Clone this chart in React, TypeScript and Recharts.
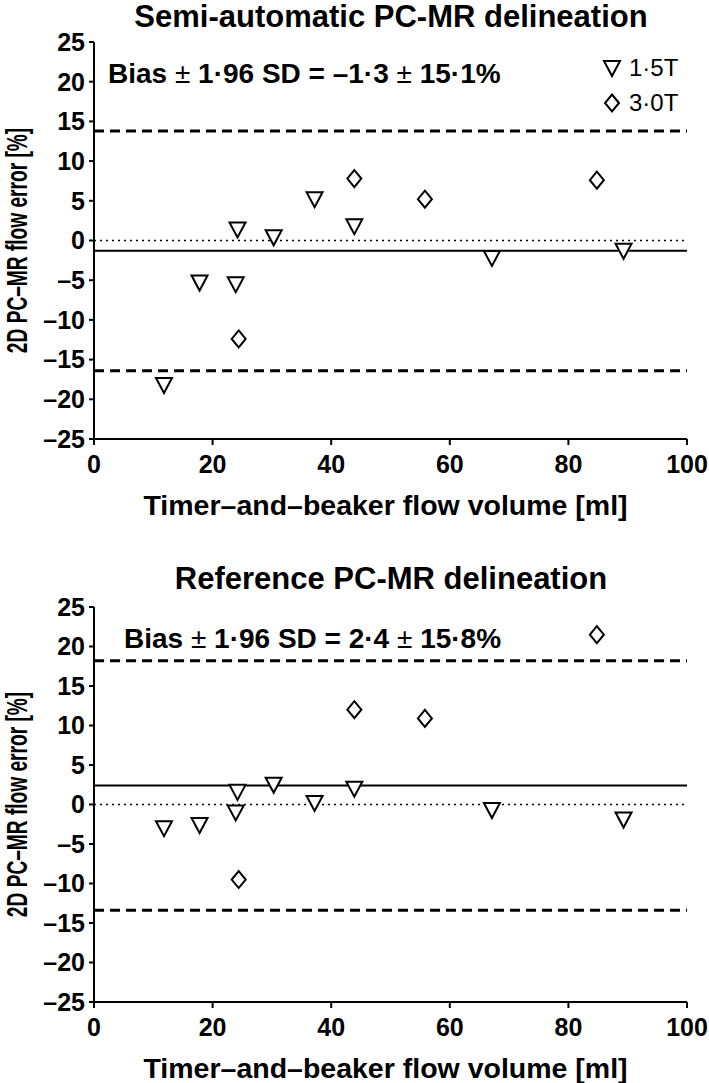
import { ScatterChart, Scatter, XAxis, YAxis, ReferenceLine, Label } from "recharts";

// 1.5T scanner (triangles)
const volume15T = [11.8, 17.8, 23.9, 24.2, 30.3, 37.2, 43.9, 67.1, 89.3];
const semiError15T = [-18.2, -5.3, -5.5, 1.4, 0.4, 5.2, 1.8, -2.2, -1.3];
const refError15T = [-3.0, -2.6, -1.0, 1.6, 2.5, 0.2, 2.0, -0.7, -1.9];

// 3.0T scanner (diamonds)
const volume30T = [24.4, 43.9, 55.8, 84.8];
const semiError30T = [-12.4, 7.8, 5.2, 7.6];
const refError30T = [-9.5, 12.0, 10.9, 21.5];

const semiBias = -1.3;
const semiLoa = 15.1;
const refBias = 2.4;
const refLoa = 15.8;

const xTicks = [0, 20, 40, 60, 80, 100];
const yTicks = [-25, -20, -15, -10, -5, 0, 5, 10, 15, 20, 25];

const FONT = "'Liberation Sans', Arial, sans-serif";

const Triangle = ({ cx, cy }: any) => (
  <path
    d={`M${cx - 8},${cy - 7} L${cx + 8},${cy - 7} L${cx},${cy + 8} Z`}
    fill="#fff"
    stroke="#000"
    strokeWidth={2}
  />
);

const Diamond = ({ cx, cy }: any) => (
  <path
    d={`M${cx},${cy - 8.5} L${cx + 7},${cy} L${cx},${cy + 8.5} L${cx - 7},${cy} Z`}
    fill="#fff"
    stroke="#000"
    strokeWidth={2}
  />
);

// y axis title is set in a narrow face in the original, so squeeze it
const YTitle = ({ viewBox }: any) => {
  const cy = viewBox.y + viewBox.height / 2;
  return (
    <text
      transform={`translate(17, ${cy}) rotate(-90) scale(0.66, 1)`}
      textAnchor="middle"
      dy="0.36em"
      fontSize={29}
      fontWeight="bold"
      fontFamily={FONT}
      fill="#000"
    >
      2D PC–MR flow error [%]
    </text>
  );
};

const fmt = (v: number) => v.toFixed(1).replace(".", "\u00b7").replace("-", "\u2013");

interface PanelProps {
  top: number;
  height: number;
  title: string;
  titleTop: number;
  noteX: number;
  err15: number[];
  err30: number[];
  bias: number;
  loa: number;
  showLegend?: boolean;
}

const Panel = ({ top, height, title, titleTop, noteX, err15, err30, bias, loa, showLegend }: PanelProps) => {
  const data15 = volume15T.map((x, i) => ({ x, y: err15[i] }));
  const data30 = volume30T.map((x, i) => ({ x, y: err30[i] }));
  const tickStyle = { fontSize: 25, fontWeight: "bold", fill: "#000", fontFamily: FONT };

  return (
    <div style={{ position: "absolute", top, left: 0, width: 709, height }}>
      <ScatterChart width={709} height={height} margin={{ top: 42, right: 22, bottom: 0, left: 0 }}>
        <XAxis
          type="number"
          dataKey="x"
          domain={[0, 100]}
          ticks={xTicks}
          height={102}
          tickSize={6}
          tickMargin={10}
          tick={tickStyle}
          axisLine={{ stroke: "#000", strokeWidth: 2 }}
          tickLine={{ stroke: "#000", strokeWidth: 2 }}
        >
          <Label
            value="Timer–and–beaker flow volume [ml]"
            position="insideBottom"
            offset={26}
            dx={-5}
            style={{ fontSize: 28.5, fontWeight: "bold", fill: "#000", fontFamily: FONT }}
          />
        </XAxis>
        <YAxis
          type="number"
          dataKey="y"
          domain={[-25, 25]}
          ticks={yTicks}
          width={94}
          tickSize={5}
          tickMargin={4}
          tick={tickStyle}
          tickFormatter={(v: number) => String(v).replace("-", "\u2013")}
          axisLine={{ stroke: "#000", strokeWidth: 2 }}
          tickLine={{ stroke: "#000", strokeWidth: 2 }}
        >
          <Label content={YTitle} />
        </YAxis>
        <ReferenceLine y={0} stroke="#000" strokeWidth={1.5} strokeDasharray="2 4" />
        <ReferenceLine y={bias} stroke="#000" strokeWidth={2} />
        <ReferenceLine y={bias + loa} stroke="#000" strokeWidth={3} strokeDasharray="10 6" />
        <ReferenceLine y={bias - loa} stroke="#000" strokeWidth={3} strokeDasharray="10 6" />
        <Scatter name="1·5T" data={data15} shape={Triangle} isAnimationActive={false} />
        <Scatter name="3·0T" data={data30} shape={Diamond} isAnimationActive={false} />
      </ScatterChart>

      <div
        style={{
          position: "absolute",
          top: titleTop,
          left: 391,
          transform: "translateX(-50%)",
          fontFamily: FONT,
          fontWeight: "bold",
          fontSize: 31,
          lineHeight: "34px",
          whiteSpace: "nowrap",
        }}
      >
        {title}
      </div>

      <div
        style={{
          position: "absolute",
          top: 74 - 14,
          left: noteX,
          fontFamily: FONT,
          fontWeight: "bold",
          fontSize: 28,
          lineHeight: "28px",
          whiteSpace: "nowrap",
        }}
      >
        Bias <span style={{ fontWeight: "normal" }}>±</span> 1·96 SD = {fmt(bias)}{" "}
        <span style={{ fontWeight: "normal" }}>±</span> {fmt(loa)}%
      </div>

      {showLegend && (
        <div style={{ position: "absolute", top: 50, left: 599, fontFamily: FONT, fontSize: 24 }}>
          {[
            { label: "1·5T", Shape: Triangle },
            { label: "3·0T", Shape: Diamond },
          ].map(({ label, Shape }) => (
            <div key={label} style={{ display: "flex", alignItems: "center", height: 35 }}>
              <svg width={26} height={26}>
                <Shape cx={13} cy={13} />
              </svg>
              <span style={{ marginLeft: 4 }}>{label}</span>
            </div>
          ))}
        </div>
      )}
    </div>
  );
};

export default function App() {
  return (
    <div style={{ position: "absolute", top: 0, left: 0, width: 709, height: 1083, background: "#fff" }}>
      <Panel
        top={0}
        height={541}
        title="Semi-automatic PC-MR delineation"
        titleTop={0}
        noteX={108}
        err15={semiError15T}
        err30={semiError30T}
        bias={semiBias}
        loa={semiLoa}
        showLegend
      />
      <Panel
        top={565}
        height={539}
        title="Reference PC-MR delineation"
        titleTop={-3}
        noteX={124}
        err15={refError15T}
        err30={refError30T}
        bias={refBias}
        loa={refLoa}
      />
    </div>
  );
}
